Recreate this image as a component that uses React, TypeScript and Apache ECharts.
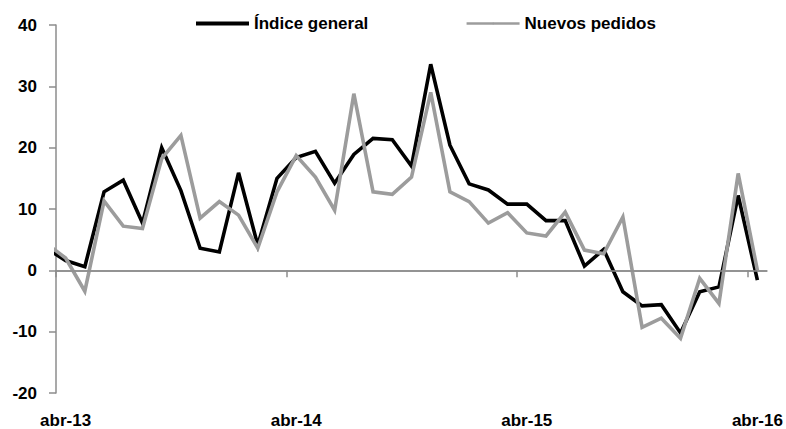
import React, { useEffect, useRef } from "react";
import * as echarts from "echarts";

// Monthly points (mar-13 .. abr-16); mar-13 lies just before the axis start and is clipped
const months = [
  "mar-13", "abr-13", "may-13", "jun-13", "jul-13", "ago-13", "sep-13", "oct-13", "nov-13", "dic-13",
  "ene-14", "feb-14", "mar-14", "abr-14", "may-14", "jun-14", "jul-14", "ago-14", "sep-14", "oct-14",
  "nov-14", "dic-14", "ene-15", "feb-15", "mar-15", "abr-15", "may-15", "jun-15", "jul-15", "ago-15",
  "sep-15", "oct-15", "nov-15", "dic-15", "ene-16", "feb-16", "mar-16", "abr-16",
];

const indiceGeneral = [
  3.6, 1.6, 0.6, 12.8, 14.7, 7.7, 20.0, 13.0, 3.6, 3.0,
  15.9, 4.1, 15.0, 18.4, 19.4, 14.2, 18.9, 21.5, 21.3, 17.0,
  33.6, 20.4, 14.1, 13.1, 10.8, 10.8, 8.1, 8.1, 0.7, 3.4,
  -3.5, -5.8, -5.6, -10.2, -3.5, -2.7, 12.2, -1.6,
];

const nuevosPedidos = [
  4.4, 2.0, -3.4, 11.3, 7.2, 6.8, 18.2, 22.0, 8.5, 11.2,
  9.0, 3.6, 12.8, 18.7, 15.2, 9.8, 28.8, 12.8, 12.4, 15.2,
  29.0, 12.8, 11.2, 7.7, 9.4, 6.1, 5.6, 9.5, 3.3, 2.7,
  8.7, -9.3, -7.8, -11.1, -1.3, -5.4, 15.8, 0.0,
];

const tickLabels = ["abr-13", "abr-14", "abr-15", "abr-16"];
const tickMonths = [0, 12, 24, 36]; // months since start of abr-13

const FONT = "'Liberation Sans', Arial, Helvetica, sans-serif";
const AXIS_GRAY = "#8c8c8c";

export default function App() {
  const ref = useRef<HTMLDivElement>(null);

  useEffect(() => {
    if (!ref.current) return;
    const chart = echarts.init(ref.current, undefined, { renderer: "svg" });

    // each monthly value sits in the middle of its month
    const toData = (vals: number[]) => vals.map((v, k) => [k - 0.5, v]);

    const labelByValue: Record<string, string> = {};
    tickMonths.forEach((m, i) => {
      labelByValue[String(m + 0.5)] = tickLabels[i];
    });

    chart.setOption({
      animation: false,
      backgroundColor: "#ffffff",
      grid: { left: 56, right: 19, top: 25, bottom: 36, containLabel: false },
      legend: {
        left: 189,
        top: 10,
        itemWidth: 53,
        itemHeight: 2,
        itemGap: 97,
        textStyle: { fontFamily: FONT, fontSize: 17, fontWeight: "bold", color: "#000" },
        data: [
          { name: "Índice general", lineStyle: { width: 4, color: "#000" } },
          { name: "Nuevos pedidos", lineStyle: { width: 2.5, color: "#9c9c9c" } },
        ],
      },
      xAxis: {
        type: "value",
        min: 0,
        max: 37,
        splitLine: { show: false },
        axisLine: { show: true, lineStyle: { color: AXIS_GRAY, width: 1.5 } },
        axisTick: {
          show: true,
          length: 7,
          customValues: tickMonths,
          lineStyle: { color: AXIS_GRAY, width: 1.5 },
        },
        axisLabel: {
          customValues: tickMonths.map((m) => m + 0.5),
          formatter: (v: number) => labelByValue[String(v)] ?? "",
          margin: 19,
          fontFamily: FONT,
          fontSize: 17,
          fontWeight: "bold",
          color: "#000",
          showMinLabel: true,
          showMaxLabel: true,
        },
      },
      yAxis: {
        type: "value",
        min: -20,
        max: 40,
        interval: 10,
        splitLine: { show: false },
        axisLine: { show: true, lineStyle: { color: AXIS_GRAY, width: 1.5 } },
        axisTick: { show: true, length: 7, lineStyle: { color: AXIS_GRAY, width: 1.5 } },
        axisLabel: {
          margin: 19,
          fontFamily: FONT,
          fontSize: 17,
          fontWeight: "bold",
          color: "#000",
        },
      },
      series: [
        {
          name: "cero",
          type: "line",
          data: [],
          z: 1,
          silent: true,
          markLine: {
            silent: true,
            symbol: ["none", "none"],
            label: { show: false },
            lineStyle: { color: AXIS_GRAY, width: 1.5, type: "solid" },
            data: [{ yAxis: 0 }],
          },
        },
        {
          name: "Índice general",
          type: "line",
          z: 2,
          data: toData(indiceGeneral),
          showSymbol: false,
          symbol: "none",
          clip: true,
          lineStyle: { color: "#000", width: 3.6, join: "miter" },
          itemStyle: { color: "#000" },
        },
        {
          name: "Nuevos pedidos",
          type: "line",
          z: 3,
          data: toData(nuevosPedidos),
          showSymbol: false,
          symbol: "none",
          clip: true,
          lineStyle: { color: "#9c9c9c", width: 3.6, join: "miter" },
          itemStyle: { color: "#9c9c9c" },
        },
      ],
    });

    return () => chart.dispose();
  }, []);

  return (
    <div
      ref={ref}
      style={{ position: "fixed", left: 0, top: 0, width: 786, height: 429, background: "#fff" }}
    />
  );
}
